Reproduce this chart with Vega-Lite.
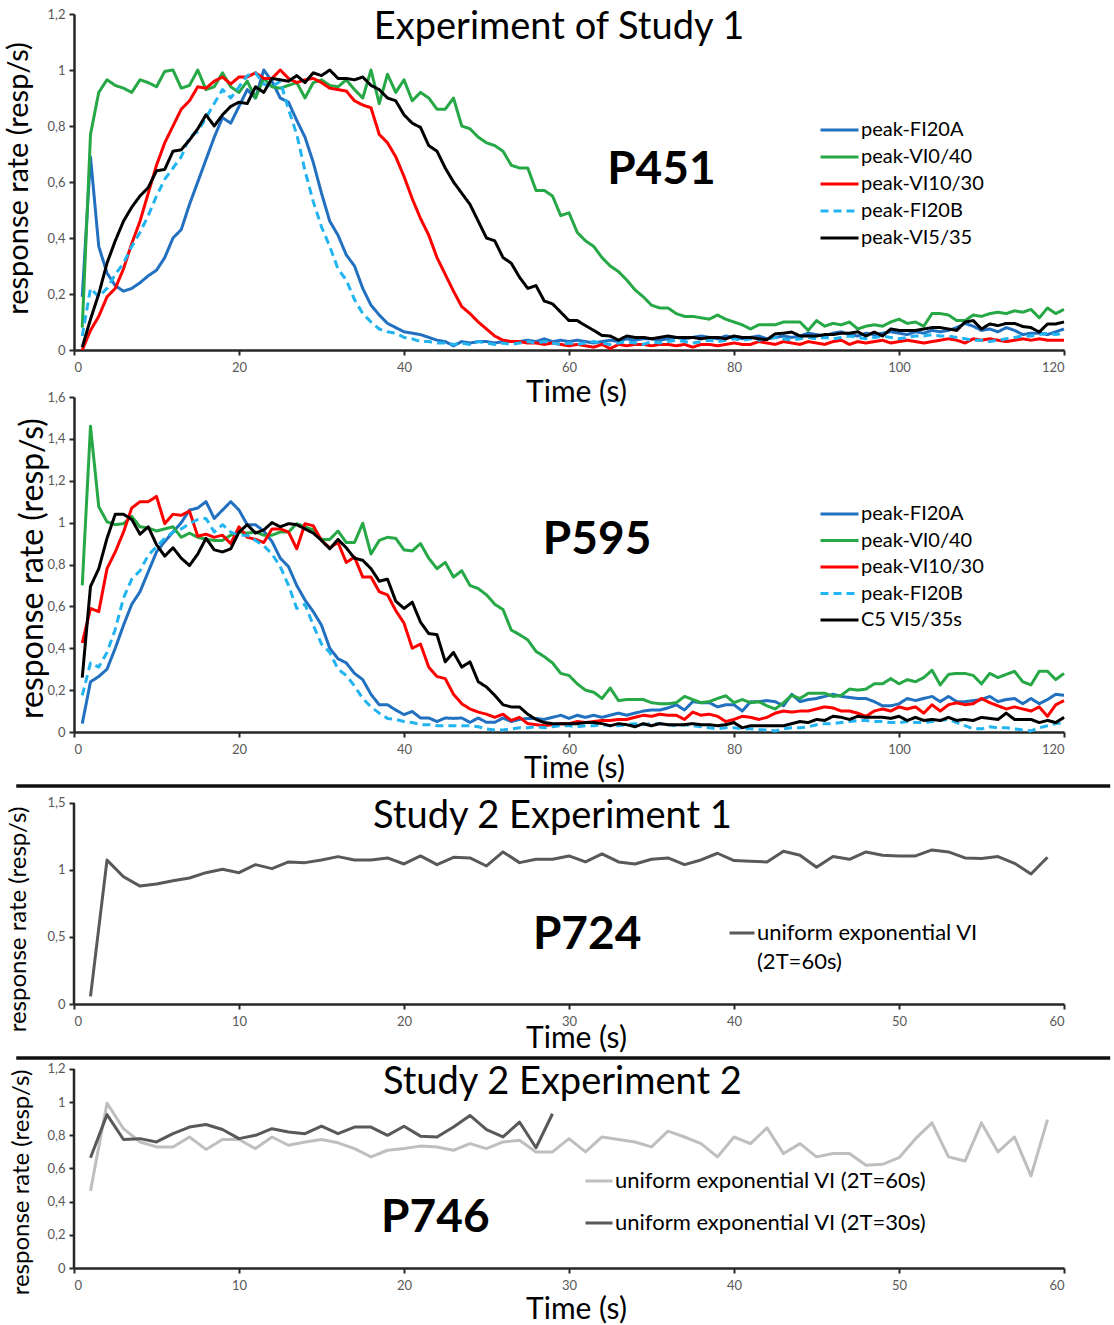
{
  "$schema": "https://vega.github.io/schema/vega-lite/v6.json",
  "background": "white",
  "padding": {"left": 3, "top": 8, "right": 0, "bottom": 0},
  "config": {
    "view": {"stroke": null},
    "font": "Lato",
    "axis": {
      "grid": false,
      "labelFont": "Lato",
      "labelFontSize": 13,
      "labelColor": "#595959",
      "labelOverlap": false,
      "domainColor": "#262626",
      "domainWidth": 2.5,
      "tickColor": "#262626",
      "tickWidth": 2,
      "tickSize": 5,
      "labelPadding": 4,
      "titleFont": "Lato",
      "titleColor": "#000000",
      "titleFontWeight": "normal"
    },
    "axisX": {"labelPadding": 6},
    "legend": {
      "labelFont": "Lato",
      "labelColor": "#000000",
      "labelLimit": 400
    }
  },
  "bounds": "flush",
  "spacing": 47,
  "resolve": {
    "scale": {"x": "independent", "y": "independent", "color": "independent", "strokeDash": "independent"},
    "legend": {"color": "independent", "strokeDash": "independent"}
  },
  "datasets": {
    "p451": [
      {"t":1,"s":"peak-FI20A","v":0.19},{"t":2,"s":"peak-FI20A","v":0.69},{"t":3,"s":"peak-FI20A","v":0.37},{"t":4,"s":"peak-FI20A","v":0.275},{"t":5,"s":"peak-FI20A","v":0.23},{"t":6,"s":"peak-FI20A","v":0.21},{"t":7,"s":"peak-FI20A","v":0.22},{"t":8,"s":"peak-FI20A","v":0.24},{"t":9,"s":"peak-FI20A","v":0.265},{"t":10,"s":"peak-FI20A","v":0.285},
      {"t":11,"s":"peak-FI20A","v":0.33},{"t":12,"s":"peak-FI20A","v":0.4},{"t":13,"s":"peak-FI20A","v":0.43},{"t":14,"s":"peak-FI20A","v":0.52},{"t":15,"s":"peak-FI20A","v":0.6},{"t":16,"s":"peak-FI20A","v":0.68},{"t":17,"s":"peak-FI20A","v":0.76},{"t":18,"s":"peak-FI20A","v":0.83},{"t":19,"s":"peak-FI20A","v":0.81},{"t":20,"s":"peak-FI20A","v":0.87},
      {"t":21,"s":"peak-FI20A","v":0.93},{"t":22,"s":"peak-FI20A","v":0.9},{"t":23,"s":"peak-FI20A","v":1},{"t":24,"s":"peak-FI20A","v":0.96},{"t":25,"s":"peak-FI20A","v":0.9},{"t":26,"s":"peak-FI20A","v":0.885},{"t":27,"s":"peak-FI20A","v":0.82},{"t":28,"s":"peak-FI20A","v":0.76},{"t":29,"s":"peak-FI20A","v":0.67},{"t":30,"s":"peak-FI20A","v":0.56},
      {"t":31,"s":"peak-FI20A","v":0.46},{"t":32,"s":"peak-FI20A","v":0.41},{"t":33,"s":"peak-FI20A","v":0.34},{"t":34,"s":"peak-FI20A","v":0.3},{"t":35,"s":"peak-FI20A","v":0.22},{"t":36,"s":"peak-FI20A","v":0.16},{"t":37,"s":"peak-FI20A","v":0.125},{"t":38,"s":"peak-FI20A","v":0.095},{"t":39,"s":"peak-FI20A","v":0.08},{"t":40,"s":"peak-FI20A","v":0.065},
      {"t":41,"s":"peak-FI20A","v":0.06},{"t":42,"s":"peak-FI20A","v":0.055},{"t":43,"s":"peak-FI20A","v":0.045},{"t":44,"s":"peak-FI20A","v":0.035},{"t":45,"s":"peak-FI20A","v":0.03},{"t":46,"s":"peak-FI20A","v":0.015},{"t":47,"s":"peak-FI20A","v":0.03},{"t":48,"s":"peak-FI20A","v":0.025},{"t":49,"s":"peak-FI20A","v":0.03},{"t":50,"s":"peak-FI20A","v":0.03},
      {"t":51,"s":"peak-FI20A","v":0.025},{"t":52,"s":"peak-FI20A","v":0.03},{"t":53,"s":"peak-FI20A","v":0.03},{"t":54,"s":"peak-FI20A","v":0.03},{"t":55,"s":"peak-FI20A","v":0.035},{"t":56,"s":"peak-FI20A","v":0.03},{"t":57,"s":"peak-FI20A","v":0.04},{"t":58,"s":"peak-FI20A","v":0.03},{"t":59,"s":"peak-FI20A","v":0.035},{"t":60,"s":"peak-FI20A","v":0.03},
      {"t":61,"s":"peak-FI20A","v":0.035},{"t":62,"s":"peak-FI20A","v":0.03},{"t":63,"s":"peak-FI20A","v":0.025},{"t":64,"s":"peak-FI20A","v":0.03},{"t":65,"s":"peak-FI20A","v":0.035},{"t":66,"s":"peak-FI20A","v":0.03},{"t":67,"s":"peak-FI20A","v":0.04},{"t":68,"s":"peak-FI20A","v":0.035},{"t":69,"s":"peak-FI20A","v":0.04},{"t":70,"s":"peak-FI20A","v":0.04},
      {"t":71,"s":"peak-FI20A","v":0.035},{"t":72,"s":"peak-FI20A","v":0.04},{"t":73,"s":"peak-FI20A","v":0.045},{"t":74,"s":"peak-FI20A","v":0.04},{"t":75,"s":"peak-FI20A","v":0.045},{"t":76,"s":"peak-FI20A","v":0.05},{"t":77,"s":"peak-FI20A","v":0.045},{"t":78,"s":"peak-FI20A","v":0.04},{"t":79,"s":"peak-FI20A","v":0.05},{"t":80,"s":"peak-FI20A","v":0.045},
      {"t":81,"s":"peak-FI20A","v":0.04},{"t":82,"s":"peak-FI20A","v":0.045},{"t":83,"s":"peak-FI20A","v":0.05},{"t":84,"s":"peak-FI20A","v":0.04},{"t":85,"s":"peak-FI20A","v":0.045},{"t":86,"s":"peak-FI20A","v":0.05},{"t":87,"s":"peak-FI20A","v":0.045},{"t":88,"s":"peak-FI20A","v":0.05},{"t":89,"s":"peak-FI20A","v":0.06},{"t":90,"s":"peak-FI20A","v":0.055},
      {"t":91,"s":"peak-FI20A","v":0.05},{"t":92,"s":"peak-FI20A","v":0.06},{"t":93,"s":"peak-FI20A","v":0.065},{"t":94,"s":"peak-FI20A","v":0.055},{"t":95,"s":"peak-FI20A","v":0.05},{"t":96,"s":"peak-FI20A","v":0.06},{"t":97,"s":"peak-FI20A","v":0.055},{"t":98,"s":"peak-FI20A","v":0.06},{"t":99,"s":"peak-FI20A","v":0.065},{"t":100,"s":"peak-FI20A","v":0.06},
      {"t":101,"s":"peak-FI20A","v":0.055},{"t":102,"s":"peak-FI20A","v":0.065},{"t":103,"s":"peak-FI20A","v":0.06},{"t":104,"s":"peak-FI20A","v":0.07},{"t":105,"s":"peak-FI20A","v":0.065},{"t":106,"s":"peak-FI20A","v":0.07},{"t":107,"s":"peak-FI20A","v":0.08},{"t":108,"s":"peak-FI20A","v":0.095},{"t":109,"s":"peak-FI20A","v":0.085},{"t":110,"s":"peak-FI20A","v":0.07},
      {"t":111,"s":"peak-FI20A","v":0.075},{"t":112,"s":"peak-FI20A","v":0.065},{"t":113,"s":"peak-FI20A","v":0.08},{"t":114,"s":"peak-FI20A","v":0.07},{"t":115,"s":"peak-FI20A","v":0.055},{"t":116,"s":"peak-FI20A","v":0.06},{"t":117,"s":"peak-FI20A","v":0.06},{"t":118,"s":"peak-FI20A","v":0.055},{"t":119,"s":"peak-FI20A","v":0.065},{"t":120,"s":"peak-FI20A","v":0.075},

      {"t":1,"s":"peak-VI0/40","v":0.08},{"t":2,"s":"peak-VI0/40","v":0.77},{"t":3,"s":"peak-VI0/40","v":0.92},{"t":4,"s":"peak-VI0/40","v":0.965},{"t":5,"s":"peak-VI0/40","v":0.945},{"t":6,"s":"peak-VI0/40","v":0.935},{"t":7,"s":"peak-VI0/40","v":0.92},{"t":8,"s":"peak-VI0/40","v":0.965},{"t":9,"s":"peak-VI0/40","v":0.955},{"t":10,"s":"peak-VI0/40","v":0.94},
      {"t":11,"s":"peak-VI0/40","v":0.995},{"t":12,"s":"peak-VI0/40","v":1},{"t":13,"s":"peak-VI0/40","v":0.935},{"t":14,"s":"peak-VI0/40","v":0.945},{"t":15,"s":"peak-VI0/40","v":1},{"t":16,"s":"peak-VI0/40","v":0.93},{"t":17,"s":"peak-VI0/40","v":0.94},{"t":18,"s":"peak-VI0/40","v":0.99},{"t":19,"s":"peak-VI0/40","v":0.94},{"t":20,"s":"peak-VI0/40","v":0.92},
      {"t":21,"s":"peak-VI0/40","v":0.96},{"t":22,"s":"peak-VI0/40","v":0.9},{"t":23,"s":"peak-VI0/40","v":0.97},{"t":24,"s":"peak-VI0/40","v":0.94},{"t":25,"s":"peak-VI0/40","v":0.935},{"t":26,"s":"peak-VI0/40","v":0.945},{"t":27,"s":"peak-VI0/40","v":0.955},{"t":28,"s":"peak-VI0/40","v":0.9},{"t":29,"s":"peak-VI0/40","v":0.955},{"t":30,"s":"peak-VI0/40","v":0.965},
      {"t":31,"s":"peak-VI0/40","v":0.945},{"t":32,"s":"peak-VI0/40","v":0.94},{"t":33,"s":"peak-VI0/40","v":0.965},{"t":34,"s":"peak-VI0/40","v":0.93},{"t":35,"s":"peak-VI0/40","v":0.9},{"t":36,"s":"peak-VI0/40","v":1},{"t":37,"s":"peak-VI0/40","v":0.88},{"t":38,"s":"peak-VI0/40","v":0.985},{"t":39,"s":"peak-VI0/40","v":0.92},{"t":40,"s":"peak-VI0/40","v":0.965},
      {"t":41,"s":"peak-VI0/40","v":0.89},{"t":42,"s":"peak-VI0/40","v":0.92},{"t":43,"s":"peak-VI0/40","v":0.9},{"t":44,"s":"peak-VI0/40","v":0.86},{"t":45,"s":"peak-VI0/40","v":0.86},{"t":46,"s":"peak-VI0/40","v":0.9},{"t":47,"s":"peak-VI0/40","v":0.8},{"t":48,"s":"peak-VI0/40","v":0.79},{"t":49,"s":"peak-VI0/40","v":0.76},{"t":50,"s":"peak-VI0/40","v":0.74},
      {"t":51,"s":"peak-VI0/40","v":0.73},{"t":52,"s":"peak-VI0/40","v":0.71},{"t":53,"s":"peak-VI0/40","v":0.66},{"t":54,"s":"peak-VI0/40","v":0.65},{"t":55,"s":"peak-VI0/40","v":0.65},{"t":56,"s":"peak-VI0/40","v":0.57},{"t":57,"s":"peak-VI0/40","v":0.57},{"t":58,"s":"peak-VI0/40","v":0.55},{"t":59,"s":"peak-VI0/40","v":0.48},{"t":60,"s":"peak-VI0/40","v":0.49},
      {"t":61,"s":"peak-VI0/40","v":0.42},{"t":62,"s":"peak-VI0/40","v":0.39},{"t":63,"s":"peak-VI0/40","v":0.37},{"t":64,"s":"peak-VI0/40","v":0.33},{"t":65,"s":"peak-VI0/40","v":0.3},{"t":66,"s":"peak-VI0/40","v":0.28},{"t":67,"s":"peak-VI0/40","v":0.25},{"t":68,"s":"peak-VI0/40","v":0.215},{"t":69,"s":"peak-VI0/40","v":0.19},{"t":70,"s":"peak-VI0/40","v":0.16},
      {"t":71,"s":"peak-VI0/40","v":0.15},{"t":72,"s":"peak-VI0/40","v":0.15},{"t":73,"s":"peak-VI0/40","v":0.13},{"t":74,"s":"peak-VI0/40","v":0.12},{"t":75,"s":"peak-VI0/40","v":0.12},{"t":76,"s":"peak-VI0/40","v":0.115},{"t":77,"s":"peak-VI0/40","v":0.11},{"t":78,"s":"peak-VI0/40","v":0.125},{"t":79,"s":"peak-VI0/40","v":0.11},{"t":80,"s":"peak-VI0/40","v":0.1},
      {"t":81,"s":"peak-VI0/40","v":0.09},{"t":82,"s":"peak-VI0/40","v":0.075},{"t":83,"s":"peak-VI0/40","v":0.09},{"t":84,"s":"peak-VI0/40","v":0.09},{"t":85,"s":"peak-VI0/40","v":0.09},{"t":86,"s":"peak-VI0/40","v":0.1},{"t":87,"s":"peak-VI0/40","v":0.1},{"t":88,"s":"peak-VI0/40","v":0.1},{"t":89,"s":"peak-VI0/40","v":0.07},{"t":90,"s":"peak-VI0/40","v":0.105},
      {"t":91,"s":"peak-VI0/40","v":0.085},{"t":92,"s":"peak-VI0/40","v":0.095},{"t":93,"s":"peak-VI0/40","v":0.09},{"t":94,"s":"peak-VI0/40","v":0.1},{"t":95,"s":"peak-VI0/40","v":0.075},{"t":96,"s":"peak-VI0/40","v":0.085},{"t":97,"s":"peak-VI0/40","v":0.09},{"t":98,"s":"peak-VI0/40","v":0.085},{"t":99,"s":"peak-VI0/40","v":0.1},{"t":100,"s":"peak-VI0/40","v":0.11},
      {"t":101,"s":"peak-VI0/40","v":0.095},{"t":102,"s":"peak-VI0/40","v":0.1},{"t":103,"s":"peak-VI0/40","v":0.085},{"t":104,"s":"peak-VI0/40","v":0.13},{"t":105,"s":"peak-VI0/40","v":0.13},{"t":106,"s":"peak-VI0/40","v":0.125},{"t":107,"s":"peak-VI0/40","v":0.105},{"t":108,"s":"peak-VI0/40","v":0.105},{"t":109,"s":"peak-VI0/40","v":0.125},{"t":110,"s":"peak-VI0/40","v":0.12},
      {"t":111,"s":"peak-VI0/40","v":0.13},{"t":112,"s":"peak-VI0/40","v":0.135},{"t":113,"s":"peak-VI0/40","v":0.13},{"t":114,"s":"peak-VI0/40","v":0.14},{"t":115,"s":"peak-VI0/40","v":0.135},{"t":116,"s":"peak-VI0/40","v":0.145},{"t":117,"s":"peak-VI0/40","v":0.115},{"t":118,"s":"peak-VI0/40","v":0.15},{"t":119,"s":"peak-VI0/40","v":0.13},{"t":120,"s":"peak-VI0/40","v":0.145},

      {"t":1,"s":"peak-VI10/30","v":0},{"t":2,"s":"peak-VI10/30","v":0.07},{"t":3,"s":"peak-VI10/30","v":0.12},{"t":4,"s":"peak-VI10/30","v":0.19},{"t":5,"s":"peak-VI10/30","v":0.22},{"t":6,"s":"peak-VI10/30","v":0.29},{"t":7,"s":"peak-VI10/30","v":0.38},{"t":8,"s":"peak-VI10/30","v":0.46},{"t":9,"s":"peak-VI10/30","v":0.56},{"t":10,"s":"peak-VI10/30","v":0.66},
      {"t":11,"s":"peak-VI10/30","v":0.74},{"t":12,"s":"peak-VI10/30","v":0.8},{"t":13,"s":"peak-VI10/30","v":0.86},{"t":14,"s":"peak-VI10/30","v":0.89},{"t":15,"s":"peak-VI10/30","v":0.94},{"t":16,"s":"peak-VI10/30","v":0.935},{"t":17,"s":"peak-VI10/30","v":0.96},{"t":18,"s":"peak-VI10/30","v":0.975},{"t":19,"s":"peak-VI10/30","v":0.95},{"t":20,"s":"peak-VI10/30","v":0.975},
      {"t":21,"s":"peak-VI10/30","v":0.975},{"t":22,"s":"peak-VI10/30","v":0.99},{"t":23,"s":"peak-VI10/30","v":0.97},{"t":24,"s":"peak-VI10/30","v":0.97},{"t":25,"s":"peak-VI10/30","v":1},{"t":26,"s":"peak-VI10/30","v":0.97},{"t":27,"s":"peak-VI10/30","v":0.955},{"t":28,"s":"peak-VI10/30","v":0.965},{"t":29,"s":"peak-VI10/30","v":0.97},{"t":30,"s":"peak-VI10/30","v":0.955},
      {"t":31,"s":"peak-VI10/30","v":0.935},{"t":32,"s":"peak-VI10/30","v":0.93},{"t":33,"s":"peak-VI10/30","v":0.925},{"t":34,"s":"peak-VI10/30","v":0.89},{"t":35,"s":"peak-VI10/30","v":0.875},{"t":36,"s":"peak-VI10/30","v":0.865},{"t":37,"s":"peak-VI10/30","v":0.77},{"t":38,"s":"peak-VI10/30","v":0.74},{"t":39,"s":"peak-VI10/30","v":0.69},{"t":40,"s":"peak-VI10/30","v":0.62},
      {"t":41,"s":"peak-VI10/30","v":0.54},{"t":42,"s":"peak-VI10/30","v":0.47},{"t":43,"s":"peak-VI10/30","v":0.41},{"t":44,"s":"peak-VI10/30","v":0.33},{"t":45,"s":"peak-VI10/30","v":0.27},{"t":46,"s":"peak-VI10/30","v":0.21},{"t":47,"s":"peak-VI10/30","v":0.155},{"t":48,"s":"peak-VI10/30","v":0.13},{"t":49,"s":"peak-VI10/30","v":0.1},{"t":50,"s":"peak-VI10/30","v":0.075},
      {"t":51,"s":"peak-VI10/30","v":0.05},{"t":52,"s":"peak-VI10/30","v":0.035},{"t":53,"s":"peak-VI10/30","v":0.03},{"t":54,"s":"peak-VI10/30","v":0.03},{"t":55,"s":"peak-VI10/30","v":0.025},{"t":56,"s":"peak-VI10/30","v":0.025},{"t":57,"s":"peak-VI10/30","v":0.02},{"t":58,"s":"peak-VI10/30","v":0.025},{"t":59,"s":"peak-VI10/30","v":0.02},{"t":60,"s":"peak-VI10/30","v":0.015},
      {"t":61,"s":"peak-VI10/30","v":0.02},{"t":62,"s":"peak-VI10/30","v":0.015},{"t":63,"s":"peak-VI10/30","v":0.01},{"t":64,"s":"peak-VI10/30","v":0.02},{"t":65,"s":"peak-VI10/30","v":0.005},{"t":66,"s":"peak-VI10/30","v":0.02},{"t":67,"s":"peak-VI10/30","v":0.015},{"t":68,"s":"peak-VI10/30","v":0.02},{"t":69,"s":"peak-VI10/30","v":0.02},{"t":70,"s":"peak-VI10/30","v":0.015},
      {"t":71,"s":"peak-VI10/30","v":0.02},{"t":72,"s":"peak-VI10/30","v":0.02},{"t":73,"s":"peak-VI10/30","v":0.015},{"t":74,"s":"peak-VI10/30","v":0.02},{"t":75,"s":"peak-VI10/30","v":0.01},{"t":76,"s":"peak-VI10/30","v":0.02},{"t":77,"s":"peak-VI10/30","v":0.02},{"t":78,"s":"peak-VI10/30","v":0.015},{"t":79,"s":"peak-VI10/30","v":0.02},{"t":80,"s":"peak-VI10/30","v":0.025},
      {"t":81,"s":"peak-VI10/30","v":0.02},{"t":82,"s":"peak-VI10/30","v":0.02},{"t":83,"s":"peak-VI10/30","v":0.03},{"t":84,"s":"peak-VI10/30","v":0.025},{"t":85,"s":"peak-VI10/30","v":0.02},{"t":86,"s":"peak-VI10/30","v":0.03},{"t":87,"s":"peak-VI10/30","v":0.025},{"t":88,"s":"peak-VI10/30","v":0.02},{"t":89,"s":"peak-VI10/30","v":0.03},{"t":90,"s":"peak-VI10/30","v":0.025},
      {"t":91,"s":"peak-VI10/30","v":0.02},{"t":92,"s":"peak-VI10/30","v":0.03},{"t":93,"s":"peak-VI10/30","v":0.035},{"t":94,"s":"peak-VI10/30","v":0.02},{"t":95,"s":"peak-VI10/30","v":0.03},{"t":96,"s":"peak-VI10/30","v":0.025},{"t":97,"s":"peak-VI10/30","v":0.03},{"t":98,"s":"peak-VI10/30","v":0.035},{"t":99,"s":"peak-VI10/30","v":0.025},{"t":100,"s":"peak-VI10/30","v":0.03},
      {"t":101,"s":"peak-VI10/30","v":0.035},{"t":102,"s":"peak-VI10/30","v":0.03},{"t":103,"s":"peak-VI10/30","v":0.025},{"t":104,"s":"peak-VI10/30","v":0.03},{"t":105,"s":"peak-VI10/30","v":0.035},{"t":106,"s":"peak-VI10/30","v":0.04},{"t":107,"s":"peak-VI10/30","v":0.035},{"t":108,"s":"peak-VI10/30","v":0.025},{"t":109,"s":"peak-VI10/30","v":0.04},{"t":110,"s":"peak-VI10/30","v":0.035},
      {"t":111,"s":"peak-VI10/30","v":0.04},{"t":112,"s":"peak-VI10/30","v":0.035},{"t":113,"s":"peak-VI10/30","v":0.03},{"t":114,"s":"peak-VI10/30","v":0.035},{"t":115,"s":"peak-VI10/30","v":0.04},{"t":116,"s":"peak-VI10/30","v":0.035},{"t":117,"s":"peak-VI10/30","v":0.04},{"t":118,"s":"peak-VI10/30","v":0.035},{"t":119,"s":"peak-VI10/30","v":0.035},{"t":120,"s":"peak-VI10/30","v":0.035},

      {"t":1,"s":"peak-FI20B","v":0.05},{"t":2,"s":"peak-FI20B","v":0.22},{"t":3,"s":"peak-FI20B","v":0.19},{"t":4,"s":"peak-FI20B","v":0.22},{"t":5,"s":"peak-FI20B","v":0.27},{"t":6,"s":"peak-FI20B","v":0.31},{"t":7,"s":"peak-FI20B","v":0.37},{"t":8,"s":"peak-FI20B","v":0.42},{"t":9,"s":"peak-FI20B","v":0.48},{"t":10,"s":"peak-FI20B","v":0.55},
      {"t":11,"s":"peak-FI20B","v":0.61},{"t":12,"s":"peak-FI20B","v":0.65},{"t":13,"s":"peak-FI20B","v":0.69},{"t":14,"s":"peak-FI20B","v":0.76},{"t":15,"s":"peak-FI20B","v":0.78},{"t":16,"s":"peak-FI20B","v":0.83},{"t":17,"s":"peak-FI20B","v":0.88},{"t":18,"s":"peak-FI20B","v":0.93},{"t":19,"s":"peak-FI20B","v":0.9},{"t":20,"s":"peak-FI20B","v":0.94},
      {"t":21,"s":"peak-FI20B","v":0.98},{"t":22,"s":"peak-FI20B","v":0.99},{"t":23,"s":"peak-FI20B","v":0.95},{"t":24,"s":"peak-FI20B","v":0.94},{"t":25,"s":"peak-FI20B","v":0.96},{"t":26,"s":"peak-FI20B","v":0.86},{"t":27,"s":"peak-FI20B","v":0.77},{"t":28,"s":"peak-FI20B","v":0.64},{"t":29,"s":"peak-FI20B","v":0.53},{"t":30,"s":"peak-FI20B","v":0.44},
      {"t":31,"s":"peak-FI20B","v":0.37},{"t":32,"s":"peak-FI20B","v":0.29},{"t":33,"s":"peak-FI20B","v":0.25},{"t":34,"s":"peak-FI20B","v":0.18},{"t":35,"s":"peak-FI20B","v":0.13},{"t":36,"s":"peak-FI20B","v":0.1},{"t":37,"s":"peak-FI20B","v":0.075},{"t":38,"s":"peak-FI20B","v":0.065},{"t":39,"s":"peak-FI20B","v":0.06},{"t":40,"s":"peak-FI20B","v":0.045},
      {"t":41,"s":"peak-FI20B","v":0.04},{"t":42,"s":"peak-FI20B","v":0.03},{"t":43,"s":"peak-FI20B","v":0.03},{"t":44,"s":"peak-FI20B","v":0.025},{"t":45,"s":"peak-FI20B","v":0.025},{"t":46,"s":"peak-FI20B","v":0.02},{"t":47,"s":"peak-FI20B","v":0.025},{"t":48,"s":"peak-FI20B","v":0.02},{"t":49,"s":"peak-FI20B","v":0.03},{"t":50,"s":"peak-FI20B","v":0.025},
      {"t":51,"s":"peak-FI20B","v":0.02},{"t":52,"s":"peak-FI20B","v":0.025},{"t":53,"s":"peak-FI20B","v":0.02},{"t":54,"s":"peak-FI20B","v":0.025},{"t":55,"s":"peak-FI20B","v":0.03},{"t":56,"s":"peak-FI20B","v":0.025},{"t":57,"s":"peak-FI20B","v":0.03},{"t":58,"s":"peak-FI20B","v":0.025},{"t":59,"s":"peak-FI20B","v":0.02},{"t":60,"s":"peak-FI20B","v":0.025},
      {"t":61,"s":"peak-FI20B","v":0.02},{"t":62,"s":"peak-FI20B","v":0.025},{"t":63,"s":"peak-FI20B","v":0.03},{"t":64,"s":"peak-FI20B","v":0.025},{"t":65,"s":"peak-FI20B","v":0.02},{"t":66,"s":"peak-FI20B","v":0.025},{"t":67,"s":"peak-FI20B","v":0.03},{"t":68,"s":"peak-FI20B","v":0.025},{"t":69,"s":"peak-FI20B","v":0.02},{"t":70,"s":"peak-FI20B","v":0.03},
      {"t":71,"s":"peak-FI20B","v":0.025},{"t":72,"s":"peak-FI20B","v":0.03},{"t":73,"s":"peak-FI20B","v":0.035},{"t":74,"s":"peak-FI20B","v":0.03},{"t":75,"s":"peak-FI20B","v":0.025},{"t":76,"s":"peak-FI20B","v":0.03},{"t":77,"s":"peak-FI20B","v":0.035},{"t":78,"s":"peak-FI20B","v":0.03},{"t":79,"s":"peak-FI20B","v":0.035},{"t":80,"s":"peak-FI20B","v":0.04},
      {"t":81,"s":"peak-FI20B","v":0.035},{"t":82,"s":"peak-FI20B","v":0.04},{"t":83,"s":"peak-FI20B","v":0.035},{"t":84,"s":"peak-FI20B","v":0.04},{"t":85,"s":"peak-FI20B","v":0.045},{"t":86,"s":"peak-FI20B","v":0.04},{"t":87,"s":"peak-FI20B","v":0.035},{"t":88,"s":"peak-FI20B","v":0.04},{"t":89,"s":"peak-FI20B","v":0.045},{"t":90,"s":"peak-FI20B","v":0.04},
      {"t":91,"s":"peak-FI20B","v":0.045},{"t":92,"s":"peak-FI20B","v":0.04},{"t":93,"s":"peak-FI20B","v":0.045},{"t":94,"s":"peak-FI20B","v":0.05},{"t":95,"s":"peak-FI20B","v":0.045},{"t":96,"s":"peak-FI20B","v":0.04},{"t":97,"s":"peak-FI20B","v":0.045},{"t":98,"s":"peak-FI20B","v":0.05},{"t":99,"s":"peak-FI20B","v":0.045},{"t":100,"s":"peak-FI20B","v":0.04},
      {"t":101,"s":"peak-FI20B","v":0.045},{"t":102,"s":"peak-FI20B","v":0.05},{"t":103,"s":"peak-FI20B","v":0.05},{"t":104,"s":"peak-FI20B","v":0.055},{"t":105,"s":"peak-FI20B","v":0.05},{"t":106,"s":"peak-FI20B","v":0.05},{"t":107,"s":"peak-FI20B","v":0.045},{"t":108,"s":"peak-FI20B","v":0.04},{"t":109,"s":"peak-FI20B","v":0.035},{"t":110,"s":"peak-FI20B","v":0.035},
      {"t":111,"s":"peak-FI20B","v":0.03},{"t":112,"s":"peak-FI20B","v":0.035},{"t":113,"s":"peak-FI20B","v":0.04},{"t":114,"s":"peak-FI20B","v":0.045},{"t":115,"s":"peak-FI20B","v":0.05},{"t":116,"s":"peak-FI20B","v":0.05},{"t":117,"s":"peak-FI20B","v":0.055},{"t":118,"s":"peak-FI20B","v":0.06},{"t":119,"s":"peak-FI20B","v":0.055},{"t":120,"s":"peak-FI20B","v":0.06},

      {"t":1,"s":"peak-VI5/35","v":0.01},{"t":2,"s":"peak-VI5/35","v":0.11},{"t":3,"s":"peak-VI5/35","v":0.2},{"t":4,"s":"peak-VI5/35","v":0.31},{"t":5,"s":"peak-VI5/35","v":0.39},{"t":6,"s":"peak-VI5/35","v":0.46},{"t":7,"s":"peak-VI5/35","v":0.51},{"t":8,"s":"peak-VI5/35","v":0.55},{"t":9,"s":"peak-VI5/35","v":0.58},{"t":10,"s":"peak-VI5/35","v":0.64},
      {"t":11,"s":"peak-VI5/35","v":0.645},{"t":12,"s":"peak-VI5/35","v":0.71},{"t":13,"s":"peak-VI5/35","v":0.715},{"t":14,"s":"peak-VI5/35","v":0.75},{"t":15,"s":"peak-VI5/35","v":0.79},{"t":16,"s":"peak-VI5/35","v":0.84},{"t":17,"s":"peak-VI5/35","v":0.8},{"t":18,"s":"peak-VI5/35","v":0.84},{"t":19,"s":"peak-VI5/35","v":0.87},{"t":20,"s":"peak-VI5/35","v":0.885},
      {"t":21,"s":"peak-VI5/35","v":0.88},{"t":22,"s":"peak-VI5/35","v":0.94},{"t":23,"s":"peak-VI5/35","v":0.92},{"t":24,"s":"peak-VI5/35","v":0.97},{"t":25,"s":"peak-VI5/35","v":0.965},{"t":26,"s":"peak-VI5/35","v":0.96},{"t":27,"s":"peak-VI5/35","v":0.98},{"t":28,"s":"peak-VI5/35","v":0.955},{"t":29,"s":"peak-VI5/35","v":0.99},{"t":30,"s":"peak-VI5/35","v":0.98},
      {"t":31,"s":"peak-VI5/35","v":1},{"t":32,"s":"peak-VI5/35","v":0.97},{"t":33,"s":"peak-VI5/35","v":0.97},{"t":34,"s":"peak-VI5/35","v":0.965},{"t":35,"s":"peak-VI5/35","v":0.975},{"t":36,"s":"peak-VI5/35","v":0.945},{"t":37,"s":"peak-VI5/35","v":0.93},{"t":38,"s":"peak-VI5/35","v":0.9},{"t":39,"s":"peak-VI5/35","v":0.89},{"t":40,"s":"peak-VI5/35","v":0.84},
      {"t":41,"s":"peak-VI5/35","v":0.81},{"t":42,"s":"peak-VI5/35","v":0.795},{"t":43,"s":"peak-VI5/35","v":0.73},{"t":44,"s":"peak-VI5/35","v":0.71},{"t":45,"s":"peak-VI5/35","v":0.65},{"t":46,"s":"peak-VI5/35","v":0.6},{"t":47,"s":"peak-VI5/35","v":0.56},{"t":48,"s":"peak-VI5/35","v":0.52},{"t":49,"s":"peak-VI5/35","v":0.46},{"t":50,"s":"peak-VI5/35","v":0.4},
      {"t":51,"s":"peak-VI5/35","v":0.39},{"t":52,"s":"peak-VI5/35","v":0.33},{"t":53,"s":"peak-VI5/35","v":0.31},{"t":54,"s":"peak-VI5/35","v":0.26},{"t":55,"s":"peak-VI5/35","v":0.22},{"t":56,"s":"peak-VI5/35","v":0.23},{"t":57,"s":"peak-VI5/35","v":0.175},{"t":58,"s":"peak-VI5/35","v":0.165},{"t":59,"s":"peak-VI5/35","v":0.135},{"t":60,"s":"peak-VI5/35","v":0.105},
      {"t":61,"s":"peak-VI5/35","v":0.105},{"t":62,"s":"peak-VI5/35","v":0.087},{"t":63,"s":"peak-VI5/35","v":0.07},{"t":64,"s":"peak-VI5/35","v":0.052},{"t":65,"s":"peak-VI5/35","v":0.05},{"t":66,"s":"peak-VI5/35","v":0.035},{"t":67,"s":"peak-VI5/35","v":0.05},{"t":68,"s":"peak-VI5/35","v":0.045},{"t":69,"s":"peak-VI5/35","v":0.045},{"t":70,"s":"peak-VI5/35","v":0.04},
      {"t":71,"s":"peak-VI5/35","v":0.045},{"t":72,"s":"peak-VI5/35","v":0.05},{"t":73,"s":"peak-VI5/35","v":0.045},{"t":74,"s":"peak-VI5/35","v":0.045},{"t":75,"s":"peak-VI5/35","v":0.045},{"t":76,"s":"peak-VI5/35","v":0.04},{"t":77,"s":"peak-VI5/35","v":0.045},{"t":78,"s":"peak-VI5/35","v":0.045},{"t":79,"s":"peak-VI5/35","v":0.04},{"t":80,"s":"peak-VI5/35","v":0.05},
      {"t":81,"s":"peak-VI5/35","v":0.045},{"t":82,"s":"peak-VI5/35","v":0.045},{"t":83,"s":"peak-VI5/35","v":0.04},{"t":84,"s":"peak-VI5/35","v":0.037},{"t":85,"s":"peak-VI5/35","v":0.058},{"t":86,"s":"peak-VI5/35","v":0.06},{"t":87,"s":"peak-VI5/35","v":0.064},{"t":88,"s":"peak-VI5/35","v":0.05},{"t":89,"s":"peak-VI5/35","v":0.05},{"t":90,"s":"peak-VI5/35","v":0.05},
      {"t":91,"s":"peak-VI5/35","v":0.055},{"t":92,"s":"peak-VI5/35","v":0.055},{"t":93,"s":"peak-VI5/35","v":0.06},{"t":94,"s":"peak-VI5/35","v":0.06},{"t":95,"s":"peak-VI5/35","v":0.065},{"t":96,"s":"peak-VI5/35","v":0.05},{"t":97,"s":"peak-VI5/35","v":0.064},{"t":98,"s":"peak-VI5/35","v":0.05},{"t":99,"s":"peak-VI5/35","v":0.075},{"t":100,"s":"peak-VI5/35","v":0.07},
      {"t":101,"s":"peak-VI5/35","v":0.07},{"t":102,"s":"peak-VI5/35","v":0.07},{"t":103,"s":"peak-VI5/35","v":0.075},{"t":104,"s":"peak-VI5/35","v":0.08},{"t":105,"s":"peak-VI5/35","v":0.08},{"t":106,"s":"peak-VI5/35","v":0.075},{"t":107,"s":"peak-VI5/35","v":0.07},{"t":108,"s":"peak-VI5/35","v":0.1},{"t":109,"s":"peak-VI5/35","v":0.105},{"t":110,"s":"peak-VI5/35","v":0.075},
      {"t":111,"s":"peak-VI5/35","v":0.093},{"t":112,"s":"peak-VI5/35","v":0.087},{"t":113,"s":"peak-VI5/35","v":0.095},{"t":114,"s":"peak-VI5/35","v":0.095},{"t":115,"s":"peak-VI5/35","v":0.084},{"t":116,"s":"peak-VI5/35","v":0.08},{"t":117,"s":"peak-VI5/35","v":0.064},{"t":118,"s":"peak-VI5/35","v":0.093},{"t":119,"s":"peak-VI5/35","v":0.093},{"t":120,"s":"peak-VI5/35","v":0.1}
    ],
    "p595": [
      {"t":1,"s":"peak-FI20A","v":0.04},{"t":2,"s":"peak-FI20A","v":0.24},{"t":3,"s":"peak-FI20A","v":0.265},{"t":4,"s":"peak-FI20A","v":0.3},{"t":5,"s":"peak-FI20A","v":0.4},{"t":6,"s":"peak-FI20A","v":0.51},{"t":7,"s":"peak-FI20A","v":0.61},{"t":8,"s":"peak-FI20A","v":0.67},{"t":9,"s":"peak-FI20A","v":0.765},{"t":10,"s":"peak-FI20A","v":0.86},
      {"t":11,"s":"peak-FI20A","v":0.91},{"t":12,"s":"peak-FI20A","v":0.955},{"t":13,"s":"peak-FI20A","v":1},{"t":14,"s":"peak-FI20A","v":1.06},{"t":15,"s":"peak-FI20A","v":1.07},{"t":16,"s":"peak-FI20A","v":1.1},{"t":17,"s":"peak-FI20A","v":1.02},{"t":18,"s":"peak-FI20A","v":1.06},{"t":19,"s":"peak-FI20A","v":1.1},{"t":20,"s":"peak-FI20A","v":1.06},
      {"t":21,"s":"peak-FI20A","v":0.99},{"t":22,"s":"peak-FI20A","v":0.99},{"t":23,"s":"peak-FI20A","v":0.96},{"t":24,"s":"peak-FI20A","v":0.91},{"t":25,"s":"peak-FI20A","v":0.83},{"t":26,"s":"peak-FI20A","v":0.79},{"t":27,"s":"peak-FI20A","v":0.7},{"t":28,"s":"peak-FI20A","v":0.63},{"t":29,"s":"peak-FI20A","v":0.575},{"t":30,"s":"peak-FI20A","v":0.51},
      {"t":31,"s":"peak-FI20A","v":0.4},{"t":32,"s":"peak-FI20A","v":0.35},{"t":33,"s":"peak-FI20A","v":0.33},{"t":34,"s":"peak-FI20A","v":0.28},{"t":35,"s":"peak-FI20A","v":0.25},{"t":36,"s":"peak-FI20A","v":0.18},{"t":37,"s":"peak-FI20A","v":0.13},{"t":38,"s":"peak-FI20A","v":0.13},{"t":39,"s":"peak-FI20A","v":0.105},{"t":40,"s":"peak-FI20A","v":0.083},
      {"t":41,"s":"peak-FI20A","v":0.098},{"t":42,"s":"peak-FI20A","v":0.067},{"t":43,"s":"peak-FI20A","v":0.067},{"t":44,"s":"peak-FI20A","v":0.05},{"t":45,"s":"peak-FI20A","v":0.067},{"t":46,"s":"peak-FI20A","v":0.065},{"t":47,"s":"peak-FI20A","v":0.067},{"t":48,"s":"peak-FI20A","v":0.046},{"t":49,"s":"peak-FI20A","v":0.067},{"t":50,"s":"peak-FI20A","v":0.046},
      {"t":51,"s":"peak-FI20A","v":0.046},{"t":52,"s":"peak-FI20A","v":0.067},{"t":53,"s":"peak-FI20A","v":0.05},{"t":54,"s":"peak-FI20A","v":0.06},{"t":55,"s":"peak-FI20A","v":0.065},{"t":56,"s":"peak-FI20A","v":0.065},{"t":57,"s":"peak-FI20A","v":0.06},{"t":58,"s":"peak-FI20A","v":0.07},{"t":59,"s":"peak-FI20A","v":0.08},{"t":60,"s":"peak-FI20A","v":0.065},
      {"t":61,"s":"peak-FI20A","v":0.08},{"t":62,"s":"peak-FI20A","v":0.07},{"t":63,"s":"peak-FI20A","v":0.08},{"t":64,"s":"peak-FI20A","v":0.07},{"t":65,"s":"peak-FI20A","v":0.08},{"t":66,"s":"peak-FI20A","v":0.09},{"t":67,"s":"peak-FI20A","v":0.08},{"t":68,"s":"peak-FI20A","v":0.09},{"t":69,"s":"peak-FI20A","v":0.1},{"t":70,"s":"peak-FI20A","v":0.105},
      {"t":71,"s":"peak-FI20A","v":0.105},{"t":72,"s":"peak-FI20A","v":0.115},{"t":73,"s":"peak-FI20A","v":0.13},{"t":74,"s":"peak-FI20A","v":0.105},{"t":75,"s":"peak-FI20A","v":0.145},{"t":76,"s":"peak-FI20A","v":0.14},{"t":77,"s":"peak-FI20A","v":0.14},{"t":78,"s":"peak-FI20A","v":0.12},{"t":79,"s":"peak-FI20A","v":0.13},{"t":80,"s":"peak-FI20A","v":0.13},
      {"t":81,"s":"peak-FI20A","v":0.1},{"t":82,"s":"peak-FI20A","v":0.145},{"t":83,"s":"peak-FI20A","v":0.145},{"t":84,"s":"peak-FI20A","v":0.15},{"t":85,"s":"peak-FI20A","v":0.145},{"t":86,"s":"peak-FI20A","v":0.125},{"t":87,"s":"peak-FI20A","v":0.18},{"t":88,"s":"peak-FI20A","v":0.145},{"t":89,"s":"peak-FI20A","v":0.155},{"t":90,"s":"peak-FI20A","v":0.16},
      {"t":91,"s":"peak-FI20A","v":0.17},{"t":92,"s":"peak-FI20A","v":0.18},{"t":93,"s":"peak-FI20A","v":0.17},{"t":94,"s":"peak-FI20A","v":0.165},{"t":95,"s":"peak-FI20A","v":0.16},{"t":96,"s":"peak-FI20A","v":0.16},{"t":97,"s":"peak-FI20A","v":0.145},{"t":98,"s":"peak-FI20A","v":0.125},{"t":99,"s":"peak-FI20A","v":0.125},{"t":100,"s":"peak-FI20A","v":0.135},
      {"t":101,"s":"peak-FI20A","v":0.16},{"t":102,"s":"peak-FI20A","v":0.15},{"t":103,"s":"peak-FI20A","v":0.16},{"t":104,"s":"peak-FI20A","v":0.17},{"t":105,"s":"peak-FI20A","v":0.145},{"t":106,"s":"peak-FI20A","v":0.17},{"t":107,"s":"peak-FI20A","v":0.145},{"t":108,"s":"peak-FI20A","v":0.145},{"t":109,"s":"peak-FI20A","v":0.15},{"t":110,"s":"peak-FI20A","v":0.155},
      {"t":111,"s":"peak-FI20A","v":0.17},{"t":112,"s":"peak-FI20A","v":0.145},{"t":113,"s":"peak-FI20A","v":0.155},{"t":114,"s":"peak-FI20A","v":0.16},{"t":115,"s":"peak-FI20A","v":0.135},{"t":116,"s":"peak-FI20A","v":0.16},{"t":117,"s":"peak-FI20A","v":0.135},{"t":118,"s":"peak-FI20A","v":0.155},{"t":119,"s":"peak-FI20A","v":0.18},{"t":120,"s":"peak-FI20A","v":0.175},

      {"t":1,"s":"peak-VI0/40","v":0.7},{"t":2,"s":"peak-VI0/40","v":1.46},{"t":3,"s":"peak-VI0/40","v":1.076},{"t":4,"s":"peak-VI0/40","v":1.004},{"t":5,"s":"peak-VI0/40","v":0.99},{"t":6,"s":"peak-VI0/40","v":0.995},{"t":7,"s":"peak-VI0/40","v":1.03},{"t":8,"s":"peak-VI0/40","v":0.98},{"t":9,"s":"peak-VI0/40","v":0.975},{"t":10,"s":"peak-VI0/40","v":0.96},
      {"t":11,"s":"peak-VI0/40","v":0.97},{"t":12,"s":"peak-VI0/40","v":0.98},{"t":13,"s":"peak-VI0/40","v":0.93},{"t":14,"s":"peak-VI0/40","v":0.95},{"t":15,"s":"peak-VI0/40","v":0.93},{"t":16,"s":"peak-VI0/40","v":0.92},{"t":17,"s":"peak-VI0/40","v":0.915},{"t":18,"s":"peak-VI0/40","v":0.915},{"t":19,"s":"peak-VI0/40","v":0.94},{"t":20,"s":"peak-VI0/40","v":0.955},
      {"t":21,"s":"peak-VI0/40","v":0.95},{"t":22,"s":"peak-VI0/40","v":0.955},{"t":23,"s":"peak-VI0/40","v":0.94},{"t":24,"s":"peak-VI0/40","v":0.94},{"t":25,"s":"peak-VI0/40","v":0.955},{"t":26,"s":"peak-VI0/40","v":0.955},{"t":27,"s":"peak-VI0/40","v":0.995},{"t":28,"s":"peak-VI0/40","v":0.98},{"t":29,"s":"peak-VI0/40","v":0.965},{"t":30,"s":"peak-VI0/40","v":0.92},
      {"t":31,"s":"peak-VI0/40","v":0.92},{"t":32,"s":"peak-VI0/40","v":0.96},{"t":33,"s":"peak-VI0/40","v":0.905},{"t":34,"s":"peak-VI0/40","v":0.905},{"t":35,"s":"peak-VI0/40","v":0.997},{"t":36,"s":"peak-VI0/40","v":0.85},{"t":37,"s":"peak-VI0/40","v":0.915},{"t":38,"s":"peak-VI0/40","v":0.93},{"t":39,"s":"peak-VI0/40","v":0.925},{"t":40,"s":"peak-VI0/40","v":0.87},
      {"t":41,"s":"peak-VI0/40","v":0.865},{"t":42,"s":"peak-VI0/40","v":0.9},{"t":43,"s":"peak-VI0/40","v":0.83},{"t":44,"s":"peak-VI0/40","v":0.78},{"t":45,"s":"peak-VI0/40","v":0.81},{"t":46,"s":"peak-VI0/40","v":0.74},{"t":47,"s":"peak-VI0/40","v":0.77},{"t":48,"s":"peak-VI0/40","v":0.7},{"t":49,"s":"peak-VI0/40","v":0.685},{"t":50,"s":"peak-VI0/40","v":0.655},
      {"t":51,"s":"peak-VI0/40","v":0.61},{"t":52,"s":"peak-VI0/40","v":0.585},{"t":53,"s":"peak-VI0/40","v":0.487},{"t":54,"s":"peak-VI0/40","v":0.465},{"t":55,"s":"peak-VI0/40","v":0.44},{"t":56,"s":"peak-VI0/40","v":0.385},{"t":57,"s":"peak-VI0/40","v":0.36},{"t":58,"s":"peak-VI0/40","v":0.33},{"t":59,"s":"peak-VI0/40","v":0.28},{"t":60,"s":"peak-VI0/40","v":0.27},
      {"t":61,"s":"peak-VI0/40","v":0.23},{"t":62,"s":"peak-VI0/40","v":0.2},{"t":63,"s":"peak-VI0/40","v":0.19},{"t":64,"s":"peak-VI0/40","v":0.16},{"t":65,"s":"peak-VI0/40","v":0.21},{"t":66,"s":"peak-VI0/40","v":0.15},{"t":67,"s":"peak-VI0/40","v":0.155},{"t":68,"s":"peak-VI0/40","v":0.155},{"t":69,"s":"peak-VI0/40","v":0.155},{"t":70,"s":"peak-VI0/40","v":0.14},
      {"t":71,"s":"peak-VI0/40","v":0.135},{"t":72,"s":"peak-VI0/40","v":0.135},{"t":73,"s":"peak-VI0/40","v":0.14},{"t":74,"s":"peak-VI0/40","v":0.17},{"t":75,"s":"peak-VI0/40","v":0.155},{"t":76,"s":"peak-VI0/40","v":0.14},{"t":77,"s":"peak-VI0/40","v":0.145},{"t":78,"s":"peak-VI0/40","v":0.16},{"t":79,"s":"peak-VI0/40","v":0.173},{"t":80,"s":"peak-VI0/40","v":0.14},
      {"t":81,"s":"peak-VI0/40","v":0.155},{"t":82,"s":"peak-VI0/40","v":0.14},{"t":83,"s":"peak-VI0/40","v":0.145},{"t":84,"s":"peak-VI0/40","v":0.125},{"t":85,"s":"peak-VI0/40","v":0.11},{"t":86,"s":"peak-VI0/40","v":0.14},{"t":87,"s":"peak-VI0/40","v":0.175},{"t":88,"s":"peak-VI0/40","v":0.16},{"t":89,"s":"peak-VI0/40","v":0.185},{"t":90,"s":"peak-VI0/40","v":0.185},
      {"t":91,"s":"peak-VI0/40","v":0.185},{"t":92,"s":"peak-VI0/40","v":0.17},{"t":93,"s":"peak-VI0/40","v":0.175},{"t":94,"s":"peak-VI0/40","v":0.205},{"t":95,"s":"peak-VI0/40","v":0.2},{"t":96,"s":"peak-VI0/40","v":0.205},{"t":97,"s":"peak-VI0/40","v":0.23},{"t":98,"s":"peak-VI0/40","v":0.23},{"t":99,"s":"peak-VI0/40","v":0.255},{"t":100,"s":"peak-VI0/40","v":0.23},
      {"t":101,"s":"peak-VI0/40","v":0.25},{"t":102,"s":"peak-VI0/40","v":0.24},{"t":103,"s":"peak-VI0/40","v":0.26},{"t":104,"s":"peak-VI0/40","v":0.295},{"t":105,"s":"peak-VI0/40","v":0.225},{"t":106,"s":"peak-VI0/40","v":0.275},{"t":107,"s":"peak-VI0/40","v":0.28},{"t":108,"s":"peak-VI0/40","v":0.28},{"t":109,"s":"peak-VI0/40","v":0.27},{"t":110,"s":"peak-VI0/40","v":0.23},
      {"t":111,"s":"peak-VI0/40","v":0.28},{"t":112,"s":"peak-VI0/40","v":0.26},{"t":113,"s":"peak-VI0/40","v":0.275},{"t":114,"s":"peak-VI0/40","v":0.29},{"t":115,"s":"peak-VI0/40","v":0.24},{"t":116,"s":"peak-VI0/40","v":0.225},{"t":117,"s":"peak-VI0/40","v":0.29},{"t":118,"s":"peak-VI0/40","v":0.29},{"t":119,"s":"peak-VI0/40","v":0.25},{"t":120,"s":"peak-VI0/40","v":0.28},

      {"t":1,"s":"peak-VI10/30","v":0.425},{"t":2,"s":"peak-VI10/30","v":0.59},{"t":3,"s":"peak-VI10/30","v":0.575},{"t":4,"s":"peak-VI10/30","v":0.78},{"t":5,"s":"peak-VI10/30","v":0.86},{"t":6,"s":"peak-VI10/30","v":0.955},{"t":7,"s":"peak-VI10/30","v":1.07},{"t":8,"s":"peak-VI10/30","v":1.1},{"t":9,"s":"peak-VI10/30","v":1.1},{"t":10,"s":"peak-VI10/30","v":1.125},
      {"t":11,"s":"peak-VI10/30","v":0.995},{"t":12,"s":"peak-VI10/30","v":1.04},{"t":13,"s":"peak-VI10/30","v":1.035},{"t":14,"s":"peak-VI10/30","v":1.055},{"t":15,"s":"peak-VI10/30","v":0.935},{"t":16,"s":"peak-VI10/30","v":0.945},{"t":17,"s":"peak-VI10/30","v":0.93},{"t":18,"s":"peak-VI10/30","v":0.94},{"t":19,"s":"peak-VI10/30","v":0.9},{"t":20,"s":"peak-VI10/30","v":0.98},
      {"t":21,"s":"peak-VI10/30","v":0.93},{"t":22,"s":"peak-VI10/30","v":0.92},{"t":23,"s":"peak-VI10/30","v":0.905},{"t":24,"s":"peak-VI10/30","v":0.97},{"t":25,"s":"peak-VI10/30","v":0.97},{"t":26,"s":"peak-VI10/30","v":0.955},{"t":27,"s":"peak-VI10/30","v":0.875},{"t":28,"s":"peak-VI10/30","v":0.995},{"t":29,"s":"peak-VI10/30","v":0.985},{"t":30,"s":"peak-VI10/30","v":0.915},
      {"t":31,"s":"peak-VI10/30","v":0.88},{"t":32,"s":"peak-VI10/30","v":0.905},{"t":33,"s":"peak-VI10/30","v":0.81},{"t":34,"s":"peak-VI10/30","v":0.835},{"t":35,"s":"peak-VI10/30","v":0.74},{"t":36,"s":"peak-VI10/30","v":0.74},{"t":37,"s":"peak-VI10/30","v":0.67},{"t":38,"s":"peak-VI10/30","v":0.655},{"t":39,"s":"peak-VI10/30","v":0.58},{"t":40,"s":"peak-VI10/30","v":0.52},
      {"t":41,"s":"peak-VI10/30","v":0.4},{"t":42,"s":"peak-VI10/30","v":0.42},{"t":43,"s":"peak-VI10/30","v":0.31},{"t":44,"s":"peak-VI10/30","v":0.265},{"t":45,"s":"peak-VI10/30","v":0.255},{"t":46,"s":"peak-VI10/30","v":0.18},{"t":47,"s":"peak-VI10/30","v":0.135},{"t":48,"s":"peak-VI10/30","v":0.11},{"t":49,"s":"peak-VI10/30","v":0.095},{"t":50,"s":"peak-VI10/30","v":0.085},
      {"t":51,"s":"peak-VI10/30","v":0.07},{"t":52,"s":"peak-VI10/30","v":0.085},{"t":53,"s":"peak-VI10/30","v":0.055},{"t":54,"s":"peak-VI10/30","v":0.07},{"t":55,"s":"peak-VI10/30","v":0.04},{"t":56,"s":"peak-VI10/30","v":0.035},{"t":57,"s":"peak-VI10/30","v":0.03},{"t":58,"s":"peak-VI10/30","v":0.035},{"t":59,"s":"peak-VI10/30","v":0.04},{"t":60,"s":"peak-VI10/30","v":0.04},
      {"t":61,"s":"peak-VI10/30","v":0.05},{"t":62,"s":"peak-VI10/30","v":0.045},{"t":63,"s":"peak-VI10/30","v":0.05},{"t":64,"s":"peak-VI10/30","v":0.055},{"t":65,"s":"peak-VI10/30","v":0.055},{"t":66,"s":"peak-VI10/30","v":0.06},{"t":67,"s":"peak-VI10/30","v":0.06},{"t":68,"s":"peak-VI10/30","v":0.07},{"t":69,"s":"peak-VI10/30","v":0.08},{"t":70,"s":"peak-VI10/30","v":0.075},
      {"t":71,"s":"peak-VI10/30","v":0.085},{"t":72,"s":"peak-VI10/30","v":0.08},{"t":73,"s":"peak-VI10/30","v":0.08},{"t":74,"s":"peak-VI10/30","v":0.06},{"t":75,"s":"peak-VI10/30","v":0.095},{"t":76,"s":"peak-VI10/30","v":0.08},{"t":77,"s":"peak-VI10/30","v":0.085},{"t":78,"s":"peak-VI10/30","v":0.075},{"t":79,"s":"peak-VI10/30","v":0.05},{"t":80,"s":"peak-VI10/30","v":0.06},
      {"t":81,"s":"peak-VI10/30","v":0.075},{"t":82,"s":"peak-VI10/30","v":0.07},{"t":83,"s":"peak-VI10/30","v":0.06},{"t":84,"s":"peak-VI10/30","v":0.07},{"t":85,"s":"peak-VI10/30","v":0.09},{"t":86,"s":"peak-VI10/30","v":0.1},{"t":87,"s":"peak-VI10/30","v":0.095},{"t":88,"s":"peak-VI10/30","v":0.1},{"t":89,"s":"peak-VI10/30","v":0.1},{"t":90,"s":"peak-VI10/30","v":0.11},
      {"t":91,"s":"peak-VI10/30","v":0.12},{"t":92,"s":"peak-VI10/30","v":0.115},{"t":93,"s":"peak-VI10/30","v":0.1},{"t":94,"s":"peak-VI10/30","v":0.1},{"t":95,"s":"peak-VI10/30","v":0.09},{"t":96,"s":"peak-VI10/30","v":0.075},{"t":97,"s":"peak-VI10/30","v":0.1},{"t":98,"s":"peak-VI10/30","v":0.11},{"t":99,"s":"peak-VI10/30","v":0.1},{"t":100,"s":"peak-VI10/30","v":0.12},
      {"t":101,"s":"peak-VI10/30","v":0.11},{"t":102,"s":"peak-VI10/30","v":0.12},{"t":103,"s":"peak-VI10/30","v":0.09},{"t":104,"s":"peak-VI10/30","v":0.13},{"t":105,"s":"peak-VI10/30","v":0.1},{"t":106,"s":"peak-VI10/30","v":0.13},{"t":107,"s":"peak-VI10/30","v":0.14},{"t":108,"s":"peak-VI10/30","v":0.13},{"t":109,"s":"peak-VI10/30","v":0.135},{"t":110,"s":"peak-VI10/30","v":0.16},
      {"t":111,"s":"peak-VI10/30","v":0.14},{"t":112,"s":"peak-VI10/30","v":0.125},{"t":113,"s":"peak-VI10/30","v":0.11},{"t":114,"s":"peak-VI10/30","v":0.12},{"t":115,"s":"peak-VI10/30","v":0.11},{"t":116,"s":"peak-VI10/30","v":0.1},{"t":117,"s":"peak-VI10/30","v":0.12},{"t":118,"s":"peak-VI10/30","v":0.075},{"t":119,"s":"peak-VI10/30","v":0.13},{"t":120,"s":"peak-VI10/30","v":0.15},

      {"t":1,"s":"peak-FI20B","v":0.175},{"t":2,"s":"peak-FI20B","v":0.33},{"t":3,"s":"peak-FI20B","v":0.31},{"t":4,"s":"peak-FI20B","v":0.38},{"t":5,"s":"peak-FI20B","v":0.49},{"t":6,"s":"peak-FI20B","v":0.64},{"t":7,"s":"peak-FI20B","v":0.73},{"t":8,"s":"peak-FI20B","v":0.77},{"t":9,"s":"peak-FI20B","v":0.845},{"t":10,"s":"peak-FI20B","v":0.885},
      {"t":11,"s":"peak-FI20B","v":0.925},{"t":12,"s":"peak-FI20B","v":0.955},{"t":13,"s":"peak-FI20B","v":0.97},{"t":14,"s":"peak-FI20B","v":0.995},{"t":15,"s":"peak-FI20B","v":1.015},{"t":16,"s":"peak-FI20B","v":1.02},{"t":17,"s":"peak-FI20B","v":0.955},{"t":18,"s":"peak-FI20B","v":0.99},{"t":19,"s":"peak-FI20B","v":0.955},{"t":20,"s":"peak-FI20B","v":0.94},
      {"t":21,"s":"peak-FI20B","v":0.94},{"t":22,"s":"peak-FI20B","v":0.915},{"t":23,"s":"peak-FI20B","v":0.89},{"t":24,"s":"peak-FI20B","v":0.85},{"t":25,"s":"peak-FI20B","v":0.79},{"t":26,"s":"peak-FI20B","v":0.7},{"t":27,"s":"peak-FI20B","v":0.59},{"t":28,"s":"peak-FI20B","v":0.61},{"t":29,"s":"peak-FI20B","v":0.51},{"t":30,"s":"peak-FI20B","v":0.42},
      {"t":31,"s":"peak-FI20B","v":0.38},{"t":32,"s":"peak-FI20B","v":0.3},{"t":33,"s":"peak-FI20B","v":0.27},{"t":34,"s":"peak-FI20B","v":0.22},{"t":35,"s":"peak-FI20B","v":0.16},{"t":36,"s":"peak-FI20B","v":0.12},{"t":37,"s":"peak-FI20B","v":0.09},{"t":38,"s":"peak-FI20B","v":0.065},{"t":39,"s":"peak-FI20B","v":0.06},{"t":40,"s":"peak-FI20B","v":0.05},
      {"t":41,"s":"peak-FI20B","v":0.045},{"t":42,"s":"peak-FI20B","v":0.035},{"t":43,"s":"peak-FI20B","v":0.035},{"t":44,"s":"peak-FI20B","v":0.03},{"t":45,"s":"peak-FI20B","v":0.03},{"t":46,"s":"peak-FI20B","v":0.03},{"t":47,"s":"peak-FI20B","v":0.03},{"t":48,"s":"peak-FI20B","v":0.03},{"t":49,"s":"peak-FI20B","v":0.025},{"t":50,"s":"peak-FI20B","v":0.015},
      {"t":51,"s":"peak-FI20B","v":0.01},{"t":52,"s":"peak-FI20B","v":0.01},{"t":53,"s":"peak-FI20B","v":0.015},{"t":54,"s":"peak-FI20B","v":0.02},{"t":55,"s":"peak-FI20B","v":0.02},{"t":56,"s":"peak-FI20B","v":0.025},{"t":57,"s":"peak-FI20B","v":0.02},{"t":58,"s":"peak-FI20B","v":0.025},{"t":59,"s":"peak-FI20B","v":0.03},{"t":60,"s":"peak-FI20B","v":0.03},
      {"t":61,"s":"peak-FI20B","v":0.025},{"t":62,"s":"peak-FI20B","v":0.03},{"t":63,"s":"peak-FI20B","v":0.03},{"t":64,"s":"peak-FI20B","v":0.035},{"t":65,"s":"peak-FI20B","v":0.03},{"t":66,"s":"peak-FI20B","v":0.03},{"t":67,"s":"peak-FI20B","v":0.035},{"t":68,"s":"peak-FI20B","v":0.04},{"t":69,"s":"peak-FI20B","v":0.035},{"t":70,"s":"peak-FI20B","v":0.04},
      {"t":71,"s":"peak-FI20B","v":0.04},{"t":72,"s":"peak-FI20B","v":0.035},{"t":73,"s":"peak-FI20B","v":0.03},{"t":74,"s":"peak-FI20B","v":0.035},{"t":75,"s":"peak-FI20B","v":0.03},{"t":76,"s":"peak-FI20B","v":0.025},{"t":77,"s":"peak-FI20B","v":0.02},{"t":78,"s":"peak-FI20B","v":0.015},{"t":79,"s":"peak-FI20B","v":0.02},{"t":80,"s":"peak-FI20B","v":0.02},
      {"t":81,"s":"peak-FI20B","v":0.015},{"t":82,"s":"peak-FI20B","v":0.015},{"t":83,"s":"peak-FI20B","v":0.012},{"t":84,"s":"peak-FI20B","v":0.01},{"t":85,"s":"peak-FI20B","v":0.005},{"t":86,"s":"peak-FI20B","v":0.015},{"t":87,"s":"peak-FI20B","v":0.02},{"t":88,"s":"peak-FI20B","v":0.02},{"t":89,"s":"peak-FI20B","v":0.025},{"t":90,"s":"peak-FI20B","v":0.035},
      {"t":91,"s":"peak-FI20B","v":0.04},{"t":92,"s":"peak-FI20B","v":0.04},{"t":93,"s":"peak-FI20B","v":0.045},{"t":94,"s":"peak-FI20B","v":0.05},{"t":95,"s":"peak-FI20B","v":0.055},{"t":96,"s":"peak-FI20B","v":0.055},{"t":97,"s":"peak-FI20B","v":0.05},{"t":98,"s":"peak-FI20B","v":0.05},{"t":99,"s":"peak-FI20B","v":0.045},{"t":100,"s":"peak-FI20B","v":0.045},
      {"t":101,"s":"peak-FI20B","v":0.05},{"t":102,"s":"peak-FI20B","v":0.045},{"t":103,"s":"peak-FI20B","v":0.045},{"t":104,"s":"peak-FI20B","v":0.05},{"t":105,"s":"peak-FI20B","v":0.055},{"t":106,"s":"peak-FI20B","v":0.06},{"t":107,"s":"peak-FI20B","v":0.045},{"t":108,"s":"peak-FI20B","v":0.03},{"t":109,"s":"peak-FI20B","v":0.015},{"t":110,"s":"peak-FI20B","v":0.015},
      {"t":111,"s":"peak-FI20B","v":0.025},{"t":112,"s":"peak-FI20B","v":0.02},{"t":113,"s":"peak-FI20B","v":0.02},{"t":114,"s":"peak-FI20B","v":0.015},{"t":115,"s":"peak-FI20B","v":0.01},{"t":116,"s":"peak-FI20B","v":0.005},{"t":117,"s":"peak-FI20B","v":0.02},{"t":118,"s":"peak-FI20B","v":0.03},{"t":119,"s":"peak-FI20B","v":0.04},{"t":120,"s":"peak-FI20B","v":0.045},

      {"t":1,"s":"C5 VI5/35s","v":0.26},{"t":2,"s":"C5 VI5/35s","v":0.695},{"t":3,"s":"C5 VI5/35s","v":0.78},{"t":4,"s":"C5 VI5/35s","v":0.925},{"t":5,"s":"C5 VI5/35s","v":1.04},{"t":6,"s":"C5 VI5/35s","v":1.04},{"t":7,"s":"C5 VI5/35s","v":1.015},{"t":8,"s":"C5 VI5/35s","v":0.945},{"t":9,"s":"C5 VI5/35s","v":0.98},{"t":10,"s":"C5 VI5/35s","v":0.895},
      {"t":11,"s":"C5 VI5/35s","v":0.84},{"t":12,"s":"C5 VI5/35s","v":0.88},{"t":13,"s":"C5 VI5/35s","v":0.83},{"t":14,"s":"C5 VI5/35s","v":0.795},{"t":15,"s":"C5 VI5/35s","v":0.85},{"t":16,"s":"C5 VI5/35s","v":0.925},{"t":17,"s":"C5 VI5/35s","v":0.87},{"t":18,"s":"C5 VI5/35s","v":0.86},{"t":19,"s":"C5 VI5/35s","v":0.875},{"t":20,"s":"C5 VI5/35s","v":0.955},
      {"t":21,"s":"C5 VI5/35s","v":0.99},{"t":22,"s":"C5 VI5/35s","v":0.95},{"t":23,"s":"C5 VI5/35s","v":0.965},{"t":24,"s":"C5 VI5/35s","v":1},{"t":25,"s":"C5 VI5/35s","v":0.98},{"t":26,"s":"C5 VI5/35s","v":0.995},{"t":27,"s":"C5 VI5/35s","v":0.99},{"t":28,"s":"C5 VI5/35s","v":0.97},{"t":29,"s":"C5 VI5/35s","v":0.95},{"t":30,"s":"C5 VI5/35s","v":0.915},
      {"t":31,"s":"C5 VI5/35s","v":0.875},{"t":32,"s":"C5 VI5/35s","v":0.92},{"t":33,"s":"C5 VI5/35s","v":0.88},{"t":34,"s":"C5 VI5/35s","v":0.83},{"t":35,"s":"C5 VI5/35s","v":0.82},{"t":36,"s":"C5 VI5/35s","v":0.78},{"t":37,"s":"C5 VI5/35s","v":0.72},{"t":38,"s":"C5 VI5/35s","v":0.73},{"t":39,"s":"C5 VI5/35s","v":0.625},{"t":40,"s":"C5 VI5/35s","v":0.59},
      {"t":41,"s":"C5 VI5/35s","v":0.62},{"t":42,"s":"C5 VI5/35s","v":0.525},{"t":43,"s":"C5 VI5/35s","v":0.47},{"t":44,"s":"C5 VI5/35s","v":0.465},{"t":45,"s":"C5 VI5/35s","v":0.335},{"t":46,"s":"C5 VI5/35s","v":0.38},{"t":47,"s":"C5 VI5/35s","v":0.31},{"t":48,"s":"C5 VI5/35s","v":0.335},{"t":49,"s":"C5 VI5/35s","v":0.24},{"t":50,"s":"C5 VI5/35s","v":0.215},
      {"t":51,"s":"C5 VI5/35s","v":0.175},{"t":52,"s":"C5 VI5/35s","v":0.13},{"t":53,"s":"C5 VI5/35s","v":0.12},{"t":54,"s":"C5 VI5/35s","v":0.12},{"t":55,"s":"C5 VI5/35s","v":0.085},{"t":56,"s":"C5 VI5/35s","v":0.06},{"t":57,"s":"C5 VI5/35s","v":0.045},{"t":58,"s":"C5 VI5/35s","v":0.04},{"t":59,"s":"C5 VI5/35s","v":0.04},{"t":60,"s":"C5 VI5/35s","v":0.04},
      {"t":61,"s":"C5 VI5/35s","v":0.04},{"t":62,"s":"C5 VI5/35s","v":0.045},{"t":63,"s":"C5 VI5/35s","v":0.045},{"t":64,"s":"C5 VI5/35s","v":0.04},{"t":65,"s":"C5 VI5/35s","v":0.03},{"t":66,"s":"C5 VI5/35s","v":0.04},{"t":67,"s":"C5 VI5/35s","v":0.035},{"t":68,"s":"C5 VI5/35s","v":0.025},{"t":69,"s":"C5 VI5/35s","v":0.04},{"t":70,"s":"C5 VI5/35s","v":0.03},
      {"t":71,"s":"C5 VI5/35s","v":0.04},{"t":72,"s":"C5 VI5/35s","v":0.035},{"t":73,"s":"C5 VI5/35s","v":0.035},{"t":74,"s":"C5 VI5/35s","v":0.035},{"t":75,"s":"C5 VI5/35s","v":0.04},{"t":76,"s":"C5 VI5/35s","v":0.035},{"t":77,"s":"C5 VI5/35s","v":0.035},{"t":78,"s":"C5 VI5/35s","v":0.03},{"t":79,"s":"C5 VI5/35s","v":0.035},{"t":80,"s":"C5 VI5/35s","v":0.045},
      {"t":81,"s":"C5 VI5/35s","v":0.02},{"t":82,"s":"C5 VI5/35s","v":0.03},{"t":83,"s":"C5 VI5/35s","v":0.03},{"t":84,"s":"C5 VI5/35s","v":0.03},{"t":85,"s":"C5 VI5/35s","v":0.03},{"t":86,"s":"C5 VI5/35s","v":0.03},{"t":87,"s":"C5 VI5/35s","v":0.04},{"t":88,"s":"C5 VI5/35s","v":0.05},{"t":89,"s":"C5 VI5/35s","v":0.045},{"t":90,"s":"C5 VI5/35s","v":0.06},
      {"t":91,"s":"C5 VI5/35s","v":0.055},{"t":92,"s":"C5 VI5/35s","v":0.075},{"t":93,"s":"C5 VI5/35s","v":0.07},{"t":94,"s":"C5 VI5/35s","v":0.06},{"t":95,"s":"C5 VI5/35s","v":0.075},{"t":96,"s":"C5 VI5/35s","v":0.07},{"t":97,"s":"C5 VI5/35s","v":0.07},{"t":98,"s":"C5 VI5/35s","v":0.07},{"t":99,"s":"C5 VI5/35s","v":0.065},{"t":100,"s":"C5 VI5/35s","v":0.075},
      {"t":101,"s":"C5 VI5/35s","v":0.055},{"t":102,"s":"C5 VI5/35s","v":0.07},{"t":103,"s":"C5 VI5/35s","v":0.055},{"t":104,"s":"C5 VI5/35s","v":0.06},{"t":105,"s":"C5 VI5/35s","v":0.055},{"t":106,"s":"C5 VI5/35s","v":0.07},{"t":107,"s":"C5 VI5/35s","v":0.055},{"t":108,"s":"C5 VI5/35s","v":0.06},{"t":109,"s":"C5 VI5/35s","v":0.055},{"t":110,"s":"C5 VI5/35s","v":0.07},
      {"t":111,"s":"C5 VI5/35s","v":0.065},{"t":112,"s":"C5 VI5/35s","v":0.06},{"t":113,"s":"C5 VI5/35s","v":0.09},{"t":114,"s":"C5 VI5/35s","v":0.06},{"t":115,"s":"C5 VI5/35s","v":0.06},{"t":116,"s":"C5 VI5/35s","v":0.06},{"t":117,"s":"C5 VI5/35s","v":0.045},{"t":118,"s":"C5 VI5/35s","v":0.055},{"t":119,"s":"C5 VI5/35s","v":0.045},{"t":120,"s":"C5 VI5/35s","v":0.07}
    ],
    "p724": [
      {"t":1,"s":"uniform exponential VI (2T=60s)","v":0.057},{"t":2,"s":"uniform exponential VI (2T=60s)","v":1.074},{"t":3,"s":"uniform exponential VI (2T=60s)","v":0.95},{"t":4,"s":"uniform exponential VI (2T=60s)","v":0.88},{"t":5,"s":"uniform exponential VI (2T=60s)","v":0.895},{"t":6,"s":"uniform exponential VI (2T=60s)","v":0.92},{"t":7,"s":"uniform exponential VI (2T=60s)","v":0.94},{"t":8,"s":"uniform exponential VI (2T=60s)","v":0.98},{"t":9,"s":"uniform exponential VI (2T=60s)","v":1.005},{"t":10,"s":"uniform exponential VI (2T=60s)","v":0.98},
      {"t":11,"s":"uniform exponential VI (2T=60s)","v":1.04},{"t":12,"s":"uniform exponential VI (2T=60s)","v":1.01},{"t":13,"s":"uniform exponential VI (2T=60s)","v":1.06},{"t":14,"s":"uniform exponential VI (2T=60s)","v":1.055},{"t":15,"s":"uniform exponential VI (2T=60s)","v":1.075},{"t":16,"s":"uniform exponential VI (2T=60s)","v":1.1},{"t":17,"s":"uniform exponential VI (2T=60s)","v":1.075},{"t":18,"s":"uniform exponential VI (2T=60s)","v":1.075},{"t":19,"s":"uniform exponential VI (2T=60s)","v":1.09},{"t":20,"s":"uniform exponential VI (2T=60s)","v":1.045},
      {"t":21,"s":"uniform exponential VI (2T=60s)","v":1.105},{"t":22,"s":"uniform exponential VI (2T=60s)","v":1.04},{"t":23,"s":"uniform exponential VI (2T=60s)","v":1.095},{"t":24,"s":"uniform exponential VI (2T=60s)","v":1.09},{"t":25,"s":"uniform exponential VI (2T=60s)","v":1.03},{"t":26,"s":"uniform exponential VI (2T=60s)","v":1.135},{"t":27,"s":"uniform exponential VI (2T=60s)","v":1.055},{"t":28,"s":"uniform exponential VI (2T=60s)","v":1.08},{"t":29,"s":"uniform exponential VI (2T=60s)","v":1.08},{"t":30,"s":"uniform exponential VI (2T=60s)","v":1.105},
      {"t":31,"s":"uniform exponential VI (2T=60s)","v":1.06},{"t":32,"s":"uniform exponential VI (2T=60s)","v":1.12},{"t":33,"s":"uniform exponential VI (2T=60s)","v":1.06},{"t":34,"s":"uniform exponential VI (2T=60s)","v":1.045},{"t":35,"s":"uniform exponential VI (2T=60s)","v":1.08},{"t":36,"s":"uniform exponential VI (2T=60s)","v":1.09},{"t":37,"s":"uniform exponential VI (2T=60s)","v":1.04},{"t":38,"s":"uniform exponential VI (2T=60s)","v":1.075},{"t":39,"s":"uniform exponential VI (2T=60s)","v":1.125},{"t":40,"s":"uniform exponential VI (2T=60s)","v":1.07},
      {"t":41,"s":"uniform exponential VI (2T=60s)","v":1.065},{"t":42,"s":"uniform exponential VI (2T=60s)","v":1.06},{"t":43,"s":"uniform exponential VI (2T=60s)","v":1.14},{"t":44,"s":"uniform exponential VI (2T=60s)","v":1.11},{"t":45,"s":"uniform exponential VI (2T=60s)","v":1.02},{"t":46,"s":"uniform exponential VI (2T=60s)","v":1.1},{"t":47,"s":"uniform exponential VI (2T=60s)","v":1.08},{"t":48,"s":"uniform exponential VI (2T=60s)","v":1.135},{"t":49,"s":"uniform exponential VI (2T=60s)","v":1.11},{"t":50,"s":"uniform exponential VI (2T=60s)","v":1.105},
      {"t":51,"s":"uniform exponential VI (2T=60s)","v":1.105},{"t":52,"s":"uniform exponential VI (2T=60s)","v":1.15},{"t":53,"s":"uniform exponential VI (2T=60s)","v":1.135},{"t":54,"s":"uniform exponential VI (2T=60s)","v":1.09},{"t":55,"s":"uniform exponential VI (2T=60s)","v":1.085},{"t":56,"s":"uniform exponential VI (2T=60s)","v":1.1},{"t":57,"s":"uniform exponential VI (2T=60s)","v":1.05},{"t":58,"s":"uniform exponential VI (2T=60s)","v":0.97},{"t":59,"s":"uniform exponential VI (2T=60s)","v":1.095}
    ],
    "p746": [
      {"t":1,"s":"uniform exponential VI (2T=60s)","v":0.465},{"t":2,"s":"uniform exponential VI (2T=60s)","v":0.994},{"t":3,"s":"uniform exponential VI (2T=60s)","v":0.84},{"t":4,"s":"uniform exponential VI (2T=60s)","v":0.76},{"t":5,"s":"uniform exponential VI (2T=60s)","v":0.73},{"t":6,"s":"uniform exponential VI (2T=60s)","v":0.73},{"t":7,"s":"uniform exponential VI (2T=60s)","v":0.79},{"t":8,"s":"uniform exponential VI (2T=60s)","v":0.715},{"t":9,"s":"uniform exponential VI (2T=60s)","v":0.775},{"t":10,"s":"uniform exponential VI (2T=60s)","v":0.775},
      {"t":11,"s":"uniform exponential VI (2T=60s)","v":0.72},{"t":12,"s":"uniform exponential VI (2T=60s)","v":0.79},{"t":13,"s":"uniform exponential VI (2T=60s)","v":0.74},{"t":14,"s":"uniform exponential VI (2T=60s)","v":0.76},{"t":15,"s":"uniform exponential VI (2T=60s)","v":0.775},{"t":16,"s":"uniform exponential VI (2T=60s)","v":0.755},{"t":17,"s":"uniform exponential VI (2T=60s)","v":0.72},{"t":18,"s":"uniform exponential VI (2T=60s)","v":0.67},{"t":19,"s":"uniform exponential VI (2T=60s)","v":0.71},{"t":20,"s":"uniform exponential VI (2T=60s)","v":0.72},
      {"t":21,"s":"uniform exponential VI (2T=60s)","v":0.735},{"t":22,"s":"uniform exponential VI (2T=60s)","v":0.73},{"t":23,"s":"uniform exponential VI (2T=60s)","v":0.71},{"t":24,"s":"uniform exponential VI (2T=60s)","v":0.75},{"t":25,"s":"uniform exponential VI (2T=60s)","v":0.72},{"t":26,"s":"uniform exponential VI (2T=60s)","v":0.76},{"t":27,"s":"uniform exponential VI (2T=60s)","v":0.77},{"t":28,"s":"uniform exponential VI (2T=60s)","v":0.7},{"t":29,"s":"uniform exponential VI (2T=60s)","v":0.7},{"t":30,"s":"uniform exponential VI (2T=60s)","v":0.78},
      {"t":31,"s":"uniform exponential VI (2T=60s)","v":0.7},{"t":32,"s":"uniform exponential VI (2T=60s)","v":0.79},{"t":33,"s":"uniform exponential VI (2T=60s)","v":0.775},{"t":34,"s":"uniform exponential VI (2T=60s)","v":0.76},{"t":35,"s":"uniform exponential VI (2T=60s)","v":0.73},{"t":36,"s":"uniform exponential VI (2T=60s)","v":0.825},{"t":37,"s":"uniform exponential VI (2T=60s)","v":0.79},{"t":38,"s":"uniform exponential VI (2T=60s)","v":0.75},{"t":39,"s":"uniform exponential VI (2T=60s)","v":0.67},{"t":40,"s":"uniform exponential VI (2T=60s)","v":0.79},
      {"t":41,"s":"uniform exponential VI (2T=60s)","v":0.75},{"t":42,"s":"uniform exponential VI (2T=60s)","v":0.845},{"t":43,"s":"uniform exponential VI (2T=60s)","v":0.69},{"t":44,"s":"uniform exponential VI (2T=60s)","v":0.75},{"t":45,"s":"uniform exponential VI (2T=60s)","v":0.67},{"t":46,"s":"uniform exponential VI (2T=60s)","v":0.69},{"t":47,"s":"uniform exponential VI (2T=60s)","v":0.69},{"t":48,"s":"uniform exponential VI (2T=60s)","v":0.62},{"t":49,"s":"uniform exponential VI (2T=60s)","v":0.625},{"t":50,"s":"uniform exponential VI (2T=60s)","v":0.665},
      {"t":51,"s":"uniform exponential VI (2T=60s)","v":0.78},{"t":52,"s":"uniform exponential VI (2T=60s)","v":0.875},{"t":53,"s":"uniform exponential VI (2T=60s)","v":0.67},{"t":54,"s":"uniform exponential VI (2T=60s)","v":0.645},{"t":55,"s":"uniform exponential VI (2T=60s)","v":0.875},{"t":56,"s":"uniform exponential VI (2T=60s)","v":0.7},{"t":57,"s":"uniform exponential VI (2T=60s)","v":0.79},{"t":58,"s":"uniform exponential VI (2T=60s)","v":0.555},{"t":59,"s":"uniform exponential VI (2T=60s)","v":0.895},
      {"t":1,"s":"uniform exponential VI (2T=30s)","v":0.665},{"t":2,"s":"uniform exponential VI (2T=30s)","v":0.925},{"t":3,"s":"uniform exponential VI (2T=30s)","v":0.775},{"t":4,"s":"uniform exponential VI (2T=30s)","v":0.78},{"t":5,"s":"uniform exponential VI (2T=30s)","v":0.76},{"t":6,"s":"uniform exponential VI (2T=30s)","v":0.81},{"t":7,"s":"uniform exponential VI (2T=30s)","v":0.85},{"t":8,"s":"uniform exponential VI (2T=30s)","v":0.865},{"t":9,"s":"uniform exponential VI (2T=30s)","v":0.835},{"t":10,"s":"uniform exponential VI (2T=30s)","v":0.78},
      {"t":11,"s":"uniform exponential VI (2T=30s)","v":0.8},{"t":12,"s":"uniform exponential VI (2T=30s)","v":0.84},{"t":13,"s":"uniform exponential VI (2T=30s)","v":0.82},{"t":14,"s":"uniform exponential VI (2T=30s)","v":0.81},{"t":15,"s":"uniform exponential VI (2T=30s)","v":0.855},{"t":16,"s":"uniform exponential VI (2T=30s)","v":0.81},{"t":17,"s":"uniform exponential VI (2T=30s)","v":0.85},{"t":18,"s":"uniform exponential VI (2T=30s)","v":0.85},{"t":19,"s":"uniform exponential VI (2T=30s)","v":0.8},{"t":20,"s":"uniform exponential VI (2T=30s)","v":0.855},
      {"t":21,"s":"uniform exponential VI (2T=30s)","v":0.795},{"t":22,"s":"uniform exponential VI (2T=30s)","v":0.79},{"t":23,"s":"uniform exponential VI (2T=30s)","v":0.85},{"t":24,"s":"uniform exponential VI (2T=30s)","v":0.92},{"t":25,"s":"uniform exponential VI (2T=30s)","v":0.835},{"t":26,"s":"uniform exponential VI (2T=30s)","v":0.79},{"t":27,"s":"uniform exponential VI (2T=30s)","v":0.88},{"t":28,"s":"uniform exponential VI (2T=30s)","v":0.725},{"t":29,"s":"uniform exponential VI (2T=30s)","v":0.93}
    ]
  },
  "vconcat": [
    {
      "width": 990,
      "height": 336,
      "layer": [
        {
          "data": {"name": "p451"},
          "mark": {"type": "line", "strokeWidth": 3, "strokeJoin": "round"},
          "encoding": {
            "x": {"field": "t", "type": "quantitative", "scale": {"domain": [0, 120], "nice": false},
                  "axis": {"values": [0, 20, 40, 60, 80, 100, 120], "tickCount": 20, "format": "d", "title": "Time (s)", "titleFontSize": 30, "titleX": 502, "titleY": 42, "titleBaseline": "middle"}},
            "y": {"field": "v", "type": "quantitative", "scale": {"domain": [0, 1.2], "nice": false},
                  "axis": {"values": [0, 0.2, 0.4, 0.6, 0.8, 1, 1.2], "tickCount": 20, "labelOverlap": false, "labelExpr": "replace(format(datum.value, '~g'), '.', ',')", "title": "response rate (resp/s)", "titleFontSize": 29, "titleX": -56, "titleY": 164, "titleBaseline": "middle", "titleAngle": 270}},
            "color": {"field": "s", "type": "nominal",
                      "scale": {"domain": ["peak-FI20A", "peak-VI0/40", "peak-VI10/30", "peak-FI20B", "peak-VI5/35"], "range": ["#2270c0", "#26a846", "#ff0000", "#22b4f0", "#000000"]},
                      "legend": {"orient": "none", "legendX": 745, "legendY": 105, "title": null, "symbolType": "stroke", "symbolSize": 1444, "symbolStrokeWidth": 3, "labelFontSize": 20, "clipHeight": 22, "rowPadding": 5, "labelOffset": 1}},
            "strokeDash": {"field": "s", "type": "nominal",
                      "scale": {"domain": ["peak-FI20A", "peak-VI0/40", "peak-VI10/30", "peak-FI20B", "peak-VI5/35"], "range": [[1, 0], [1, 0], [1, 0], [8, 5], [1, 0]]},
                      "legend": {"orient": "none", "legendX": 745, "legendY": 105, "title": null, "symbolType": "stroke", "symbolSize": 1444, "symbolStrokeWidth": 3, "labelFontSize": 20, "clipHeight": 22, "rowPadding": 5, "labelOffset": 1}}
          }
        },
        {
          "data": {"values": [{}]},
          "mark": {"type": "text", "fontSize": 38, "font": "Lato", "color": "#000000", "baseline": "middle"},
          "encoding": {"x": {"datum": 58.8, "type": "quantitative"}, "y": {"datum": 1.15, "type": "quantitative"}, "text": {"value": "Experiment of Study 1"}}
        },
        {
          "data": {"values": [{}]},
          "mark": {"type": "text", "fontSize": 46, "font": "Lato", "fontWeight": "bold", "color": "#000000", "baseline": "middle"},
          "encoding": {"x": {"datum": 71.2, "type": "quantitative"}, "y": {"datum": 0.643, "type": "quantitative"}, "text": {"value": "P451"}}
        }
      ]
    },
    {
      "width": 990,
      "height": 335,
      "layer": [
        {
          "data": {"name": "p595"},
          "mark": {"type": "line", "strokeWidth": 3, "strokeJoin": "round"},
          "encoding": {
            "x": {"field": "t", "type": "quantitative", "scale": {"domain": [0, 120], "nice": false},
                  "axis": {"values": [0, 20, 40, 60, 80, 100, 120], "tickCount": 20, "format": "d", "title": "Time (s)", "titleFontSize": 30, "titleX": 500, "titleY": 36, "titleBaseline": "middle"}},
            "y": {"field": "v", "type": "quantitative", "scale": {"domain": [0, 1.6], "nice": false},
                  "axis": {"values": [0, 0.2, 0.4, 0.6, 0.8, 1, 1.2, 1.4, 1.6], "tickCount": 20, "labelOverlap": false, "labelExpr": "replace(format(datum.value, '~g'), '.', ',')", "title": "response rate (resp/s)", "titleFontSize": 32, "titleX": -42, "titleY": 171, "titleBaseline": "middle", "titleAngle": 270}},
            "color": {"field": "s", "type": "nominal",
                      "scale": {"domain": ["peak-FI20A", "peak-VI0/40", "peak-VI10/30", "peak-FI20B", "C5 VI5/35s"], "range": ["#2270c0", "#26a846", "#ff0000", "#22b4f0", "#000000"]},
                      "legend": {"orient": "none", "legendX": 745, "legendY": 106, "title": null, "symbolType": "stroke", "symbolSize": 1444, "symbolStrokeWidth": 3, "labelFontSize": 20, "clipHeight": 22, "rowPadding": 4.5, "labelOffset": 1}},
            "strokeDash": {"field": "s", "type": "nominal",
                      "scale": {"domain": ["peak-FI20A", "peak-VI0/40", "peak-VI10/30", "peak-FI20B", "C5 VI5/35s"], "range": [[1, 0], [1, 0], [1, 0], [8, 5], [1, 0]]},
                      "legend": {"orient": "none", "legendX": 745, "legendY": 106, "title": null, "symbolType": "stroke", "symbolSize": 1444, "symbolStrokeWidth": 3, "labelFontSize": 20, "clipHeight": 22, "rowPadding": 4.5, "labelOffset": 1}}
          }
        },
        {
          "data": {"values": [{}]},
          "mark": {"type": "text", "fontSize": 46, "font": "Lato", "fontWeight": "bold", "color": "#000000", "baseline": "middle"},
          "encoding": {"x": {"datum": 63.4, "type": "quantitative"}, "y": {"datum": 0.917, "type": "quantitative"}, "text": {"value": "P595"}}
        }
      ]
    },
    {
      "width": 990,
      "height": 225,
      "layer": [
        {
          "data": {"name": "p724"},
          "mark": {"type": "line", "strokeWidth": 3, "strokeJoin": "round"},
          "encoding": {
            "x": {"field": "t", "type": "quantitative", "scale": {"domain": [0, 60], "nice": false},
                  "axis": {"values": [0, 10, 20, 30, 40, 50, 60], "tickCount": 20, "format": "d", "title": "Time (s)", "titleFontSize": 30, "titleX": 502, "titleY": 34, "titleBaseline": "middle"}},
            "y": {"field": "v", "type": "quantitative", "scale": {"domain": [0, 1.6791], "nice": false},
                  "axis": {"values": [0, 0.5, 1, 1.5], "tickCount": 20, "labelOverlap": false, "domain": false, "labelExpr": "replace(format(datum.value, '~g'), '.', ',')", "title": "response rate (resp/s)", "titleFontSize": 24, "titleX": -56, "titleY": 140, "titleBaseline": "middle", "titleAngle": 270}},
            "color": {"field": "s", "type": "nominal",
                      "scale": {"domain": ["uniform exponential VI (2T=60s)"], "range": ["#595959"]},
                      "legend": {"orient": "none", "legendX": 654, "legendY": 143, "title": null, "symbolType": "stroke", "symbolSize": 625, "symbolStrokeWidth": 3, "labelFontSize": 22, "clipHeight": 22, "labelOffset": 1, "labelBaseline": "middle", "labelExpr": "['uniform exponential VI', '(2T=60s)']",
                                 "encode": {"labels": {"update": {"lineHeight": {"value": 29}}}}}}
          }
        },
        {
          "data": {"values": [{}]},
          "mark": {"type": "rule", "color": "#262626", "strokeWidth": 2.5},
          "encoding": {"x": {"datum": 0, "type": "quantitative"}, "y": {"datum": 0, "type": "quantitative"}, "y2": {"datum": 1.5}}
        },
        {
          "data": {"values": [{}]},
          "mark": {"type": "rule", "color": "#111111", "strokeWidth": 3.5},
          "encoding": {"x": {"datum": -3.5, "type": "quantitative"}, "x2": {"datum": 62.8}, "y": {"datum": 1.627, "type": "quantitative"}}
        },
        {
          "data": {"values": [{}]},
          "mark": {"type": "text", "fontSize": 38, "font": "Lato", "color": "#000000", "baseline": "middle"},
          "encoding": {"x": {"datum": 29.0, "type": "quantitative"}, "y": {"datum": 1.396, "type": "quantitative"}, "text": {"value": "Study 2 Experiment 1"}}
        },
        {
          "data": {"values": [{}]},
          "mark": {"type": "text", "fontSize": 46, "font": "Lato", "fontWeight": "bold", "color": "#000000", "baseline": "middle"},
          "encoding": {"x": {"datum": 31.1, "type": "quantitative"}, "y": {"datum": 0.515, "type": "quantitative"}, "text": {"value": "P724"}}
        }
      ]
    },
    {
      "width": 990,
      "height": 217,
      "layer": [
        {
          "data": {"name": "p746"},
          "mark": {"type": "line", "strokeWidth": 3, "strokeJoin": "round"},
          "encoding": {
            "x": {"field": "t", "type": "quantitative", "scale": {"domain": [0, 60], "nice": false},
                  "axis": {"values": [0, 10, 20, 30, 40, 50, 60], "tickCount": 20, "format": "d", "title": "Time (s)", "titleFontSize": 30, "titleX": 502, "titleY": 41, "titleBaseline": "middle"}},
            "y": {"field": "v", "type": "quantitative", "scale": {"domain": [0, 1.3085], "nice": false},
                  "axis": {"values": [0, 0.2, 0.4, 0.6, 0.8, 1, 1.2], "tickCount": 20, "labelOverlap": false, "domain": false, "labelExpr": "replace(format(datum.value, '~g'), '.', ',')", "title": "response rate (resp/s)", "titleFontSize": 24, "titleX": -53, "titleY": 131, "titleBaseline": "middle", "titleAngle": 270}},
            "color": {"field": "s", "type": "nominal",
                      "scale": {"domain": ["uniform exponential VI (2T=60s)", "uniform exponential VI (2T=30s)"], "range": ["#bfbfbf", "#595959"]},
                      "legend": {"orient": "none", "legendX": 510, "legendY": 119, "title": null, "symbolType": "stroke", "symbolSize": 729, "symbolStrokeWidth": 3, "labelFontSize": 22, "clipHeight": 22, "rowPadding": 20, "labelOffset": 1}}
          }
        },
        {
          "data": {"values": [{}]},
          "mark": {"type": "rule", "color": "#262626", "strokeWidth": 2.5},
          "encoding": {"x": {"datum": 0, "type": "quantitative"}, "y": {"datum": 0, "type": "quantitative"}, "y2": {"datum": 1.2}}
        },
        {
          "data": {"values": [{}]},
          "mark": {"type": "rule", "color": "#111111", "strokeWidth": 3.5},
          "encoding": {"x": {"datum": -3.5, "type": "quantitative"}, "x2": {"datum": 62.8}, "y": {"datum": 1.2666, "type": "quantitative"}}
        },
        {
          "data": {"values": [{}]},
          "mark": {"type": "text", "fontSize": 38, "font": "Lato", "color": "#000000", "baseline": "middle"},
          "encoding": {"x": {"datum": 29.6, "type": "quantitative"}, "y": {"datum": 1.116, "type": "quantitative"}, "text": {"value": "Study 2 Experiment 2"}}
        },
        {
          "data": {"values": [{}]},
          "mark": {"type": "text", "fontSize": 46, "font": "Lato", "fontWeight": "bold", "color": "#000000", "baseline": "middle"},
          "encoding": {"x": {"datum": 21.9, "type": "quantitative"}, "y": {"datum": 0.30, "type": "quantitative"}, "text": {"value": "P746"}}
        }
      ]
    }
  ]
}
